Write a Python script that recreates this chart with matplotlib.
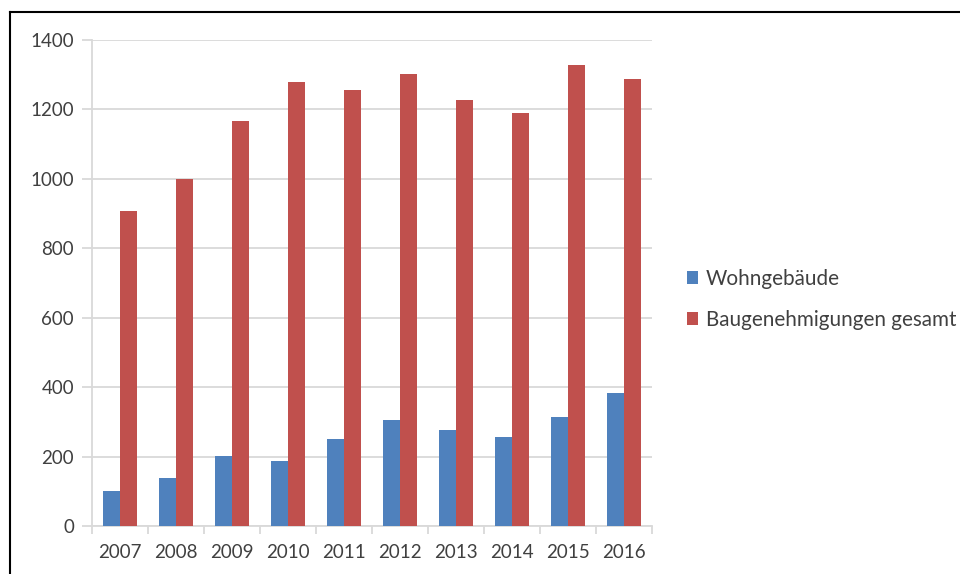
import matplotlib
matplotlib.use("Agg")
import matplotlib.pyplot as plt
from matplotlib.lines import Line2D
import numpy as np

years = ["2007", "2008", "2009", "2010", "2011", "2012", "2013", "2014", "2015", "2016"]
wohngebaeude = [100, 137, 203, 188, 250, 305, 276, 256, 315, 384]
gesamt = [907, 1000, 1167, 1279, 1256, 1302, 1227, 1190, 1327, 1288]
series_names = ["Wohngebäude", "Baugenehmigungen gesamt"]

BLUE = "#4f81bd"
RED = "#c0504d"
GRID = "#d9d9d9"
TEXT = "#404040"

plt.rcParams["font.family"] = ["Lato", "DejaVu Sans"]

W, H = 960, 574
fig = plt.figure(figsize=(W / 100, H / 100), dpi=100)
ax = fig.add_axes([92 / W, 1 - 526 / H, (652 - 92) / W, (526 - 40) / H])

x = np.arange(len(years))
bw = 0.3
ax.bar(x - bw / 2, wohngebaeude, bw, color=BLUE, label=series_names[0], zorder=3)
ax.bar(x + bw / 2, gesamt, bw, color=RED, label=series_names[1], zorder=3)

ax.set_xlim(-0.5, len(years) - 0.5)
ax.set_ylim(0, 1400)
ax.set_yticks(range(0, 1401, 200))
ax.yaxis.grid(True, color=GRID, linewidth=1.3, zorder=0)
ax.tick_params(axis="y", length=7, color=GRID, width=1.3, labelsize=13.5,
               labelcolor=TEXT, pad=6)

ax.set_xticks(x)
ax.set_xticklabels(years)
ax.set_xticks(np.arange(-0.5, len(years)), minor=True)
ax.tick_params(axis="x", which="major", length=0, labelsize=13.5,
               labelcolor=TEXT, pad=13)
ax.tick_params(axis="x", which="minor", length=6, color=GRID, width=1.3)

for side in ["top", "right"]:
    ax.spines[side].set_visible(False)
ax.spines["left"].set_color(GRID)
ax.spines["bottom"].set_color(GRID)
ax.spines["left"].set_linewidth(1.3)
ax.spines["bottom"].set_linewidth(1.3)

leg = fig.legend(loc="upper left", bbox_to_anchor=(687 / W, 1 - 269 / H),
                 frameon=False, fontsize=14.9, handlelength=0.55, handleheight=0.55,
                 handletextpad=0.35, labelspacing=1.0, labelcolor=TEXT,
                 borderaxespad=0, borderpad=0)

# outer frame (left and top edges)
fig.add_artist(Line2D([10 / W, 10 / W], [0, 1 - 12 / H], color="black",
                      linewidth=1.5, transform=fig.transFigure))
fig.add_artist(Line2D([10 / W, 1], [1 - 12 / H, 1 - 12 / H], color="black",
                      linewidth=1.5, transform=fig.transFigure))

fig.savefig("out.png", dpi=100)
